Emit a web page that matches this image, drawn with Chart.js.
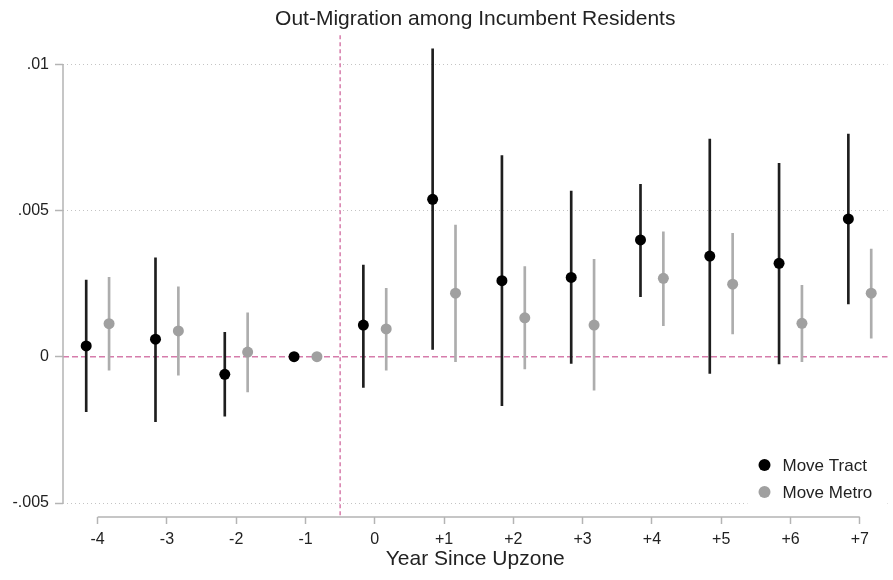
<!DOCTYPE html>
<html>
<head>
<meta charset="utf-8">
<title>Out-Migration among Incumbent Residents</title>
<script src="https://cdn.jsdelivr.net/npm/chart.js@4/dist/chart.umd.min.js"></script>
<style>
    html, body { margin: 0; padding: 0; background: #fff; }
    #chart { display: block; }
</style>
</head>
<body>
<canvas id="chart" width="893" height="580"></canvas>
<script>
// ---------- Data ----------

const years = [-4, -3, -2, -1, 0, 1, 2, 3, 4, 5, 6, 7];

// Move Tract: point estimate and 95% CI (reference year -1 has no interval)
const tractEst  = [0.00037, 0.00060, -0.00060, 0, 0.00108, 0.00538, 0.00260, 0.00271, 0.00399, 0.00344, 0.00319, 0.00471];
const tractLow  = [-0.00188, -0.00222, -0.00203, null, -0.00105, 0.00025, -0.00167, -0.00023, 0.00205, -0.00057, -0.00025, 0.00180];
const tractHigh = [0.00262, 0.00338, 0.00083, null, 0.00313, 0.01052, 0.00687, 0.00566, 0.00589, 0.00744, 0.00661, 0.00761];

// Move Metro
const metroEst  = [0.00113, 0.00088, 0.00016, 0, 0.00095, 0.00217, 0.00133, 0.00108, 0.00268, 0.00248, 0.00114, 0.00217];
const metroLow  = [-0.00046, -0.00063, -0.00120, null, -0.00046, -0.00017, -0.00042, -0.00114, 0.00106, 0.00078, -0.00017, 0.00063];
const metroHigh = [0.00271, 0.00239, 0.00150, null, 0.00234, 0.00450, 0.00308, 0.00333, 0.00427, 0.00422, 0.00244, 0.00368];

const seriesLabels = ['Move Tract', 'Move Metro'];
const yTickValues = [-0.005, 0, 0.005, 0.01];
const eventLine = -0.5;      // upzone happens between -1 and 0
const seriesOffset = 0.165;  // horizontal dodge of the two series

// ---------- Styles ----------

const FONT = '"Liberation Sans", Arial, Helvetica, sans-serif';
const TEXT = '#222';
const AXIS_GRAY = '#b4b4b4';
const REF_PINK = '#d67cab';
const TRACT_DOT = '#000000';
const TRACT_BAR = '#1e1e1e';
const METRO_DOT = '#a0a0a0';
const METRO_BAR = '#adadad';

// ---------- Helpers ----------

function pointData(est, shift) {
    return years.map((yr, i) => ({ x: yr + shift, y: est[i] }));
}

function ciData(low, high, shift) {
    return years
        .map((yr, i) => ({ x: yr + shift, y: [low[i], high[i]] }))
        .filter(d => d.y[0] !== null && d.y[1] !== null);
}

function formatYTick(value) {
    if (value === 0) return '0';
    const txt = String(Math.abs(value)).replace(/^0/, '');
    return (value < 0 ? '-' : '') + txt;
}

function formatXTick(value) {
    return value > 0 ? '+' + value : String(value);
}

// Reference lines, Stata-style axis lines and the in-plot legend
const eventStudyDecor = {
    id: 'eventStudyDecor',
    beforeDatasetsDraw(chart) {
        const { ctx, chartArea: a, scales: { x, y } } = chart;
        ctx.save();

        ctx.strokeStyle = REF_PINK;
        ctx.lineWidth = 1.5;
        ctx.setLineDash([6, 3]);
        const y0 = y.getPixelForValue(0);
        ctx.beginPath();
        ctx.moveTo(a.left, y0);
        ctx.lineTo(a.right, y0);
        ctx.stroke();

        ctx.setLineDash([4, 3]);
        const xe = x.getPixelForValue(eventLine);
        ctx.beginPath();
        ctx.moveTo(xe, a.top);
        ctx.lineTo(xe, a.bottom);
        ctx.stroke();

        ctx.setLineDash([]);
        ctx.strokeStyle = AXIS_GRAY;
        ctx.lineWidth = 1.5;
        ctx.beginPath();
        ctx.moveTo(a.left, y.getPixelForValue(yTickValues[yTickValues.length - 1]));
        ctx.lineTo(a.left, y.getPixelForValue(yTickValues[0]));
        ctx.moveTo(x.getPixelForValue(years[0]), a.bottom);
        ctx.lineTo(x.getPixelForValue(years[years.length - 1]), a.bottom);
        ctx.stroke();

        ctx.restore();
    },
    afterDatasetsDraw(chart) {
        const { ctx, chartArea: a } = chart;
        const colors = [TRACT_DOT, METRO_DOT];
        const boxW = 138, boxH = 60;
        const left = a.right - 2 - boxW;
        const top = a.bottom - 9 - boxH;

        ctx.save();
        ctx.fillStyle = '#fff';
        ctx.fillRect(left, top, boxW, boxH);
        ctx.font = '17px ' + FONT;
        ctx.textBaseline = 'middle';
        ctx.textAlign = 'left';
        seriesLabels.forEach((label, i) => {
            const cy = top + 17 + i * 27;
            ctx.fillStyle = colors[i];
            ctx.beginPath();
            ctx.arc(left + 17, cy, 6, 0, Math.PI * 2);
            ctx.fill();
            ctx.fillStyle = TEXT;
            ctx.fillText(label, left + 35, cy + 1);
        });
        ctx.restore();
    }
};

// ---------- Chart ----------

document.addEventListener('DOMContentLoaded', function () {
    const ctx = document.getElementById('chart').getContext('2d');

    new Chart(ctx, {
        type: 'scatter',
        data: {
            datasets: [
                {
                    label: seriesLabels[0],
                    data: pointData(tractEst, -seriesOffset),
                    backgroundColor: TRACT_DOT,
                    borderWidth: 0,
                    pointRadius: 5.5,
                    order: 0
                },
                {
                    label: seriesLabels[1],
                    data: pointData(metroEst, seriesOffset),
                    backgroundColor: METRO_DOT,
                    borderWidth: 0,
                    pointRadius: 5.5,
                    order: 0
                },
                {
                    type: 'bar',
                    label: seriesLabels[0] + ' CI',
                    data: ciData(tractLow, tractHigh, -seriesOffset),
                    backgroundColor: TRACT_BAR,
                    barThickness: 2,
                    grouped: false,
                    order: 1
                },
                {
                    type: 'bar',
                    label: seriesLabels[1] + ' CI',
                    data: ciData(metroLow, metroHigh, seriesOffset),
                    backgroundColor: METRO_BAR,
                    barThickness: 2,
                    grouped: false,
                    order: 1
                }
            ]
        },
        options: {
            responsive: false,
            animation: false,
            events: [],
            layout: { padding: { left: 0, right: 3, top: 0, bottom: 0 } },
            scales: {
                x: {
                    type: 'linear',
                    min: -4.5,
                    max: 7.4,
                    offset: false,
                    afterFit: s => { s.height = 63; },
                    afterBuildTicks: s => { s.ticks = years.map(v => ({ value: v })); },
                    ticks: {
                        callback: formatXTick,
                        font: { family: FONT, size: 16 },
                        color: TEXT,
                        padding: 6,
                        maxRotation: 0,
                        autoSkip: false
                    },
                    grid: {
                        offset: false,
                        drawOnChartArea: false,
                        tickLength: 7,
                        tickColor: AXIS_GRAY,
                        tickWidth: 1.5
                    },
                    border: { display: false },
                    title: {
                        display: true,
                        text: 'Year Since Upzone',
                        font: { family: FONT, size: 21 },
                        color: TEXT,
                        padding: { top: 0, bottom: 8 }
                    }
                },
                y: {
                    type: 'linear',
                    min: -0.005478,
                    max: 0.010988,
                    afterFit: s => { s.width = 63; },
                    afterBuildTicks: s => { s.ticks = yTickValues.map(v => ({ value: v })); },
                    ticks: {
                        callback: formatYTick,
                        font: { family: FONT, size: 16 },
                        color: TEXT,
                        padding: 6
                    },
                    grid: {
                        color: c => (c.tick && c.tick.value === 0) ? 'rgba(0,0,0,0)' : '#c4c4c4',
                        lineWidth: 1,
                        tickLength: 8,
                        tickColor: AXIS_GRAY,
                        tickWidth: 1.5
                    },
                    border: { display: false, dash: [1, 3] }
                }
            },
            plugins: {
                legend: { display: false },
                tooltip: { enabled: false },
                title: {
                    display: true,
                    text: 'Out-Migration among Incumbent Residents',
                    font: { family: FONT, size: 21, weight: 'normal' },
                    color: TEXT,
                    fullSize: false,
                    padding: { top: 7, bottom: 3 }
                }
            }
        },
        plugins: [eventStudyDecor]
    });
});
</script>
</body>
</html>
